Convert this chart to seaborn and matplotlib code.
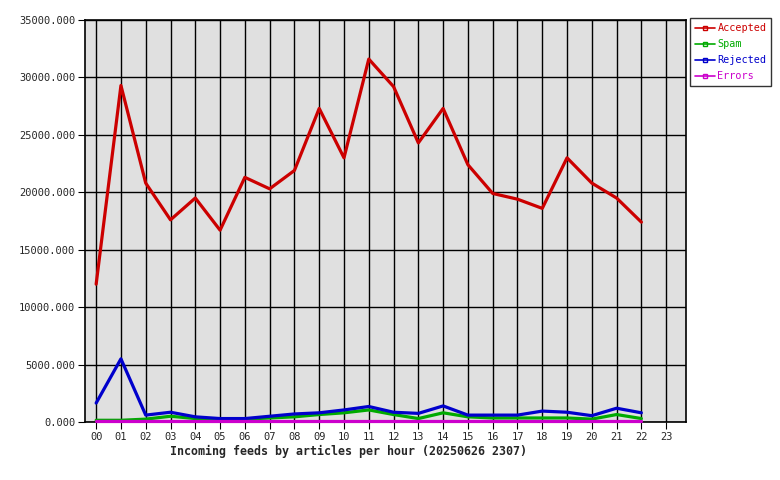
"""
Incoming feeds by articles per hour - recreated with seaborn
"""

import pandas as pd
import matplotlib
matplotlib.use("Agg")
import matplotlib.pyplot as plt
import seaborn as sns

# Data (articles per hour)
hours = list(range(23))
hour_labels = [f"{h:02d}" for h in range(24)]

accepted = [12000, 29300, 20800, 17600, 19500, 16700, 21300, 20300, 21900, 27300,
            23000, 31600, 29200, 24300, 27300, 22400, 19900, 19400, 18600, 23000,
            20800, 19500, 17400]
spam = [150, 150, 250, 500, 300, 250, 250, 350, 450, 650,
        800, 1050, 650, 300, 800, 450, 350, 350, 350, 350,
        250, 650, 300]
rejected = [1650, 5500, 600, 850, 450, 300, 300, 500, 700, 800,
            1050, 1350, 850, 750, 1400, 600, 600, 600, 950, 850,
            550, 1200, 800]
errors = [60] * 23

series_names = ["Accepted", "Spam", "Rejected", "Errors"]
colors = ["#cc0000", "#00aa00", "#0000cc", "#cc00cc"]

df = pd.DataFrame({"hour": hours, "Accepted": accepted, "Spam": spam,
                   "Rejected": rejected, "Errors": errors})
long_df = df.melt(id_vars="hour", var_name="series", value_name="articles")

sns.set_style("white")
plt.rcParams['font.family'] = ['DejaVu Sans Mono']

fig = plt.figure(figsize=(7.8, 4.8), dpi=100)
ax = fig.add_axes([85 / 780, 58 / 480, 601 / 780, 402 / 480])
ax.set_facecolor("#e0e0e0")

sns.lineplot(data=long_df, x="hour", y="articles", hue="series",
             hue_order=series_names, palette=colors, linewidth=2.3,
             ax=ax, legend=False, zorder=3, clip_on=False)

ax.set_xlim(-0.45, 23.8)
ax.set_ylim(0, 35000)
ax.set_xticks(range(24))
ax.set_xticklabels(hour_labels)
ax.set_yticks(range(0, 35001, 5000))
ax.set_yticklabels([f"{v:.3f}" for v in range(0, 35001, 5000)])
ax.grid(True, color="black", linewidth=1)
ax.set_axisbelow(True)
for spine in ax.spines.values():
    spine.set_color("black")
    spine.set_linewidth(1.2)
ax.tick_params(axis="both", labelsize=7.5, length=5, color="black",
               direction="out", left=True, bottom=True, pad=2)
ax.set_xlabel("Incoming feeds by articles per hour (20250626 2307)",
              fontsize=8.4, fontweight="bold", loc="left")
ax.xaxis.set_label_coords(0.141, -0.056)
ax.set_ylabel("")

# Legend box outside the plot, top right
handles = [plt.Line2D([], [], color=c, linewidth=1.2, marker="s", markersize=2.5,
                      markerfacecolor="none", markeredgecolor=c)
           for c in colors]
leg = fig.legend(handles, series_names, loc="upper left",
                 bbox_to_anchor=(690 / 780, 1 - 18 / 480), frameon=True,
                 fancybox=False, edgecolor="black", fontsize=7.3,
                 handlelength=2.0, handletextpad=0.2, borderpad=0.5,
                 borderaxespad=0, labelspacing=0.6)
for text, c in zip(leg.get_texts(), colors):
    text.set_color(c)
leg.get_frame().set_linewidth(1)

plt.savefig("out.png", dpi=100)
plt.close()
